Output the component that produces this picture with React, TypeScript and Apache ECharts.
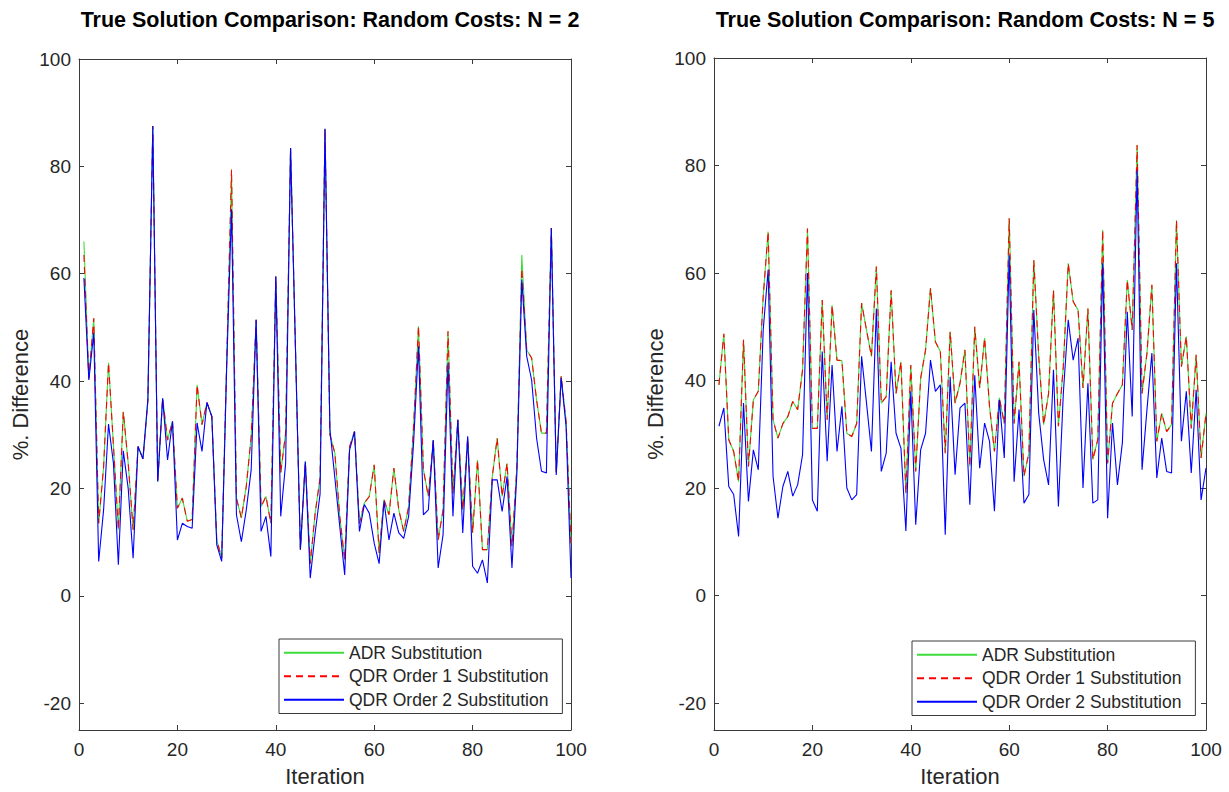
import React, { useEffect, useRef } from "react";
import * as echarts from "echarts";

const ITERATIONS: number[] = Array.from({ length: 100 }, (_, i) => i + 1);
const SERIES_NAMES = ["ADR Substitution", "QDR Order 1 Substitution", "QDR Order 2 Substitution"];
const TITLES = ["True Solution Comparison: Random Costs: N = 2", "True Solution Comparison: Random Costs: N = 5"];
const Y_TICKS = [-20, 0, 20, 40, 60, 80, 100];

// N = 2 panel
const N2_ADR = [
  66, 40.5, 51.7, 13.5, 24, 43.4, 28, 12.3, 34.3, 24.7,
  12.3, 27.8, 25.5, 36.5, 87.5, 21.3, 36.8, 29, 32.5, 16.3,
  18.2, 13.9, 14.2, 39.3, 31.9, 36, 33.4, 10.4, 7, 43,
  78.5, 18.2, 14.5, 20.4, 29.7, 51.4, 16.6, 18.5, 13.5, 59.5,
  22.9, 30.3, 83.4, 46, 8.6, 25, 6, 15.4, 22, 87,
  30, 26.6, 14.8, 6.7, 27.8, 30.6, 13.5, 17.3, 18.5, 24.4,
  8, 17.9, 15.1, 23.8, 16, 12, 16.6, 31.5, 50.2, 23.5,
  18.5, 29, 10.4, 16, 49.3, 19, 32.8, 16, 29.4, 11.7,
  25.3, 8.6, 8.6, 22.2, 29.4, 18.5, 24.7, 9.2, 24, 63.5,
  45.8, 44.3, 36.5, 30.3, 30.3, 68.5, 23, 40.9, 32.5, 9.8,
];
const N2_QDR1 = [
  63.5, 40.5, 51.7, 13.5, 24, 43.4, 28, 12.3, 34.3, 24.7,
  12.3, 27.8, 25.5, 36.5, 87.5, 21.3, 36.8, 29, 32.5, 16.3,
  18.2, 13.9, 14.2, 39.3, 31.9, 36, 33.4, 10.4, 7, 43,
  79.4, 18.2, 14.5, 20.4, 29.7, 51.4, 16.6, 18.5, 13.5, 59.5,
  22.9, 30.3, 83.4, 46, 8.6, 25, 6, 15.4, 22, 87,
  30, 26.6, 14.8, 6.7, 27.8, 30.6, 13.5, 17.3, 18.5, 24.4,
  8, 17.9, 15.1, 23.8, 16, 12, 16.6, 31.5, 50.2, 23.5,
  18.5, 29, 10.4, 16, 49.3, 19, 32.8, 16, 29.4, 11.7,
  25.3, 8.6, 8.6, 22.2, 29.4, 18.5, 24.7, 9.2, 24, 61,
  45.8, 44.3, 36.5, 30.3, 30.3, 68.5, 23, 40.9, 32.5, 9.8,
];
const N2_QDR2 = [
  59.2, 40.2, 49, 6.4, 16, 32, 24.7, 5.8, 27, 20,
  7, 27.8, 25.5, 36.5, 87.5, 21.3, 36.8, 25.3, 32.5, 10.4,
  13.5, 12.9, 12.6, 32.2, 26.9, 36, 33.4, 9.5, 6.4, 42,
  72, 15.1, 10.1, 16, 23.5, 51.4, 12, 14.8, 7.3, 59.5,
  14.8, 24.7, 83.4, 46, 8.6, 25, 3.3, 11.7, 19, 87,
  31, 22, 12.9, 3.9, 27.2, 30.6, 12, 17, 15.4, 9.8,
  6, 17.6, 10.4, 15.4, 11.7, 10.7, 14.8, 28.4, 46.5, 15.1,
  16, 29, 5.2, 11.4, 43.4, 14.8, 32.8, 11.7, 29.7, 5.5,
  4.2, 6.7, 2.4, 21.6, 21.6, 15.7, 22.2, 5.2, 22.9, 58.9,
  44.6, 40.2, 29.4, 23.2, 22.9, 68.5, 22.5, 40.6, 31.6, 3.3,
];

// N = 5 panel
const N5_ADR = [
  39.2, 48.7, 29, 26.8, 21.2, 47.6, 24, 36.4, 38, 55.6,
  67.7, 32.7, 29.3, 32, 33.3, 36.1, 34.6, 42, 68.3, 31.1,
  31.1, 55, 32.7, 54, 43.8, 43.7, 30.2, 29.6, 32, 54.4,
  49.4, 44.5, 61.2, 35.8, 37, 56.8, 37.6, 43.5, 19, 42.9,
  23.1, 40.4, 45.7, 57.2, 47.2, 45.4, 26.5, 49.1, 35.8, 39.5,
  45.7, 24, 50, 38.6, 47.9, 35.2, 26.8, 36.8, 32, 70.2,
  32, 43.5, 22.2, 26.5, 62.4, 44.5, 31.8, 37.6, 56.8, 31.5,
  42.6, 61.8, 54.7, 53.1, 38.6, 53.4, 25.3, 29, 68, 24.6,
  35.8, 37.6, 39.2, 58.7, 49.4, 83.8, 37.6, 45.1, 57.8, 28.7,
  33.9, 30.5, 31.8, 69.8, 42.6, 48.2, 31.1, 44.8, 25.6, 33.9,
];
const N5_QDR1 = [
  39.2, 48.7, 29, 26.8, 21.2, 47.6, 24, 36.4, 38, 55.6,
  67.7, 32.7, 29.3, 32, 33.3, 36.1, 34.6, 42, 68.3, 31.1,
  31.1, 55, 32.7, 54, 43.8, 43.7, 30.2, 29.6, 32, 54.4,
  49.4, 44.5, 61.2, 35.8, 37, 56.8, 37.6, 43.5, 19, 42.9,
  23.1, 40.4, 45.7, 57.2, 47.2, 45.4, 26.5, 49.1, 35.8, 39.5,
  45.7, 24, 50, 38.6, 47.9, 35.2, 26.8, 36.8, 32, 70.2,
  32, 43.5, 22.2, 26.5, 62.4, 44.5, 31.8, 37.6, 56.8, 31.5,
  42.6, 61.8, 54.7, 53.1, 38.6, 53.4, 25.3, 29, 68, 24.6,
  35.8, 37.6, 39.2, 58.7, 49.4, 83.8, 37.6, 45.1, 57.8, 28.7,
  33.9, 30.5, 31.8, 69.8, 42.6, 48.2, 31.1, 44.8, 25.6, 33.9,
];
const N5_QDR2 = [
  31.5, 34.9, 20.3, 18.8, 11, 35.8, 17.5, 27.1, 23.4, 49.4,
  60.6, 22.2, 14.4, 20.3, 23.1, 18.5, 20.6, 26.2, 60, 17.8,
  15.7, 45.4, 25, 42.9, 26.8, 35.2, 20, 17.8, 18.8, 44.5,
  35.8, 26.8, 53.4, 23.1, 26.5, 43.5, 30.2, 27.4, 12, 38,
  13.2, 27.1, 30.2, 43.8, 38, 39.2, 11.3, 40.7, 22.5, 34.9,
  35.8, 16.9, 41, 23.7, 32.1, 28.7, 15.7, 36.4, 25.6, 63.3,
  21.2, 34.6, 17.2, 18.8, 53.1, 33.9, 25.3, 20.6, 42, 16.6,
  37.6, 51.3, 43.8, 47.9, 20, 39.5, 17.2, 17.8, 61.8, 14.4,
  32.1, 20.6, 28.4, 52.8, 33.3, 79.1, 23.4, 34.6, 45.1, 21.9,
  29.3, 23.1, 22.8, 61.8, 28.7, 38, 22.8, 38.3, 17.8, 23.7,
];

const COLORS = ["#3ddd3d", "#ff0000", "#0000ff"];
const AXIS_COLOR = "#3a3a3a";
const TEXT_COLOR = "#262626";
const FONT = "'Liberation Sans', Arial, Helvetica, sans-serif";

const GRIDS = [
  { left: 79, top: 59, width: 492, height: 672 },
  { left: 714, top: 58, width: 492, height: 672 },
];
const LEGEND_POS = [
  { left: 279, top: 639 },
  { left: 912, top: 641 },
];

function pairs(vals: number[]) {
  return ITERATIONS.map((x, i) => [x, vals[i]]);
}

export default function App() {
  const ref = useRef<HTMLDivElement>(null);
  useEffect(() => {
    if (!ref.current) return;
    const chart = echarts.init(ref.current, null, { renderer: "svg" });
    const panels = [
      [N2_ADR, N2_QDR1, N2_QDR2],
      [N5_ADR, N5_QDR1, N5_QDR2],
    ];
    const xAxis: any[] = [];
    const yAxis: any[] = [];
    const series: any[] = [];
    const title: any[] = [];
    const legend: any[] = [];
    GRIDS.forEach((g, gi) => {
      const lineStyle = { color: AXIS_COLOR, width: 1 };
      xAxis.push({
        type: "value",
        gridIndex: gi,
        position: "bottom",
        min: 0,
        max: 100,
        interval: 20,
        name: "Iteration",
        nameLocation: "middle",
        nameGap: 35,
        nameTextStyle: { fontSize: 22, color: TEXT_COLOR, fontFamily: FONT },
        axisLine: { show: true, onZero: false, lineStyle },
        axisTick: { show: true, inside: true, length: 5, lineStyle },
        axisLabel: { fontSize: 19, color: TEXT_COLOR, fontFamily: FONT, margin: 10 },
        splitLine: { show: false },
      });
      xAxis.push({
        type: "value",
        gridIndex: gi,
        position: "top",
        min: 0,
        max: 100,
        interval: 20,
        axisLine: { show: true, onZero: false, lineStyle },
        axisTick: { show: true, inside: true, length: 5, lineStyle },
        axisLabel: { show: false },
        splitLine: { show: false },
      });
      yAxis.push({
        type: "value",
        gridIndex: gi,
        position: "left",
        min: -25,
        max: 100,
        name: "%. Difference",
        nameLocation: "middle",
        nameGap: 48,
        nameTextStyle: { fontSize: 22, color: TEXT_COLOR, fontFamily: FONT },
        axisLine: { show: true, onZero: false, lineStyle },
        axisTick: { show: true, inside: true, length: 5, lineStyle, customValues: Y_TICKS },
        axisLabel: { fontSize: 19, color: TEXT_COLOR, fontFamily: FONT, margin: 8, customValues: Y_TICKS },
        splitLine: { show: false },
      });
      yAxis.push({
        type: "value",
        gridIndex: gi,
        position: "right",
        min: -25,
        max: 100,
        axisLine: { show: true, onZero: false, lineStyle },
        axisTick: { show: true, inside: true, length: 5, lineStyle, customValues: Y_TICKS },
        axisLabel: { show: false, customValues: Y_TICKS },
        splitLine: { show: false },
      });
      panels[gi].forEach((vals, si) => {
        series.push({
          type: "line",
          name: SERIES_NAMES[si],
          xAxisIndex: gi * 2,
          yAxisIndex: gi * 2,
          data: pairs(vals),
          symbol: "none",
          showSymbol: false,
          lineStyle: {
            color: COLORS[si],
            width: 1.1,
            type: si === 1 ? [7, 5] : "solid",
          },
          itemStyle: { color: COLORS[si] },
          z: 2 + si,
        });
      });
      title.push({
        text: TITLES[gi],
        left: g.left + g.width / 2,
        top: 4,
        textAlign: "center",
        textStyle: { fontSize: 21.5, fontWeight: "bold", color: "#000", fontFamily: FONT },
      });
      legend.push({
        data: SERIES_NAMES,
        orient: "vertical",
        left: LEGEND_POS[gi].left,
        top: LEGEND_POS[gi].top,
        padding: [4, 14, 4, 4],
        itemWidth: 60,
        itemHeight: 14,
        itemGap: 4,
        itemTextGap: 8,
        selectedMode: false,
        backgroundColor: "#fff",
        borderColor: AXIS_COLOR,
        borderWidth: 1,
        borderRadius: 0,
        itemStyle: { opacity: 0 },
        textStyle: { fontSize: 17.5, color: TEXT_COLOR, fontFamily: FONT, lineHeight: 19.5 },
      });
    });
    chart.setOption({
      animation: false,
      backgroundColor: "#fff",
      title,
      legend,
      grid: GRIDS.map((g) => ({ ...g, containLabel: false })),
      xAxis,
      yAxis,
      series,
    });
    return () => chart.dispose();
  }, []);
  return (
    <div
      ref={ref}
      style={{ position: "fixed", left: 0, top: 0, width: 1229, height: 792, background: "#fff" }}
    />
  );
}
